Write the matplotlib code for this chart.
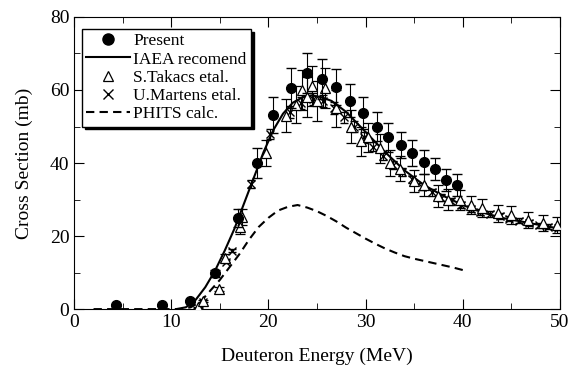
import numpy as np
import matplotlib
matplotlib.use("Agg")
import matplotlib.pyplot as plt
from matplotlib.lines import Line2D

plt.rcParams["font.family"] = ["Liberation Serif", "DejaVu Serif"]

# Present data (filled circles)
present_x = [4.3, 9.0, 11.9, 14.5, 16.9, 18.8, 20.5, 22.3, 24.0, 25.5, 27.0, 28.4,
             29.7, 31.2, 32.3, 33.6, 34.8, 36.0, 37.1, 38.3, 39.4]
present_y = [1.1, 1.1, 2.2, 9.8, 25.0, 40.0, 53.2, 60.5, 64.7, 63.0, 60.8, 57.0,
             53.7, 49.9, 47.0, 45.0, 42.7, 40.3, 38.3, 35.3, 34.0]
present_err = [0.2, 0.2, 0.3, 1.0, 2.5, 4.0, 5.0, 5.5, 5.5, 5.5, 5.0, 4.5,
               4.5, 4.0, 4.0, 3.5, 3.5, 3.2, 3.0, 3.0, 3.0]

# IAEA recommended curve
iaea_x = [10.5, 11.5, 12.5, 13.5, 14.5, 15.5, 16.5, 17.5, 18.5, 19.5, 20.5, 21.5,
          22.5, 23.5, 24.5, 25.5, 26.5, 28, 30, 32, 34, 36, 38, 40, 42, 44, 46, 48, 50]
iaea_y = [0.0, 0.5, 2.5, 6.0, 10.5, 16.0, 22.0, 29.0, 36.0, 43.0, 49.0, 53.5,
          56.5, 58.0, 58.5, 58.0, 57.0, 54.0, 48.5, 43.0, 38.0, 34.0, 31.0, 28.5,
          26.5, 25.0, 24.0, 23.0, 22.0]

# S.Takacs et al. (open triangles)
takacs_x = [12.7, 13.3, 14.9, 15.5, 17.1, 17.3, 19.8, 21.8, 22.8, 23.5, 24.0, 24.5,
            25.0, 25.8, 27.0, 28.5, 29.5, 30.2, 31.5, 32.5, 33.5, 35.0, 36.0, 37.5,
            38.5, 39.7, 40.8, 42.0, 43.6, 45.0, 46.7, 48.3, 49.7]
takacs_y = [0.5, 2.2, 5.5, 14.0, 22.5, 25.2, 42.7, 53.0, 56.0, 60.0, 58.0, 61.0,
            57.0, 60.5, 55.0, 50.0, 46.0, 47.0, 44.0, 40.0, 38.5, 35.0, 34.0, 31.0,
            30.0, 29.9, 28.5, 27.6, 26.2, 25.8, 24.4, 23.5, 23.0]
takacs_err = [0.2, 0.3, 0.6, 1.2, 2.0, 2.2, 3.5, 4.5, 5.0, 5.5, 5.5, 5.5,
              5.5, 5.5, 5.0, 4.5, 4.0, 4.0, 4.0, 3.5, 3.5, 3.0, 3.0, 3.0,
              2.8, 2.8, 2.5, 2.5, 2.4, 2.4, 2.2, 2.2, 2.2]

# U.Martens et al. (crosses)
martens_x = [13.3, 15.6, 16.3, 18.2, 20.2, 22.2, 23.4, 24.6, 25.6, 26.8, 27.8, 28.8,
             29.8, 30.8, 31.8, 32.8, 33.8, 34.8, 35.8, 36.8, 37.8, 38.8, 39.8, 40.8,
             41.8, 42.8, 43.8, 44.8, 45.8, 46.8, 47.8, 48.8, 49.8]
martens_y = [2.0, 13.0, 16.0, 34.3, 47.9, 54.0, 56.5, 57.5, 57.0, 55.0, 52.5, 50.0,
             47.0, 44.5, 42.0, 39.5, 37.5, 35.5, 33.5, 32.0, 30.5, 29.5, 28.5, 27.5,
             26.5, 26.0, 25.5, 24.8, 24.2, 23.6, 23.0, 22.6, 22.2]

# PHITS calculation
phits_x = [2, 11, 12, 13, 14, 15, 16, 17, 18, 19, 20, 21, 22, 23, 24, 25, 26, 27,
           28, 29, 30, 31, 32, 33, 34, 35, 36, 37, 38, 39, 40]
phits_y = [0.0, 0.0, 0.5, 2.0, 5.0, 8.0, 11.5, 15.0, 19.0, 22.5, 25.0, 27.0, 28.0,
           28.5, 27.8, 26.8, 25.5, 24.0, 22.3, 20.8, 19.3, 17.9, 16.6, 15.5, 14.5,
           13.8, 13.2, 12.6, 12.0, 11.4, 10.7]

fig = plt.figure(figsize=(5.79, 3.68), dpi=100)
ax = fig.add_axes([0.128, 0.160, 0.839, 0.794])

dash = (0, (4, 2.5))
ax.plot(phits_x, phits_y, color="black", linestyle=dash, lw=1.5, zorder=2)
ax.plot(iaea_x, iaea_y, color="black", lw=1.5, zorder=3)

ax.errorbar(martens_x, martens_y, yerr=np.array(martens_y) * 0.03, fmt="x",
            color="black", ms=6, mew=1.0, elinewidth=0.8, capsize=3, zorder=4)
ax.errorbar(takacs_x, takacs_y, yerr=takacs_err, fmt="^", color="black",
            mfc="white", ms=7, mew=0.9, elinewidth=0.8, capsize=3.5, zorder=5)
ax.errorbar(present_x, present_y, yerr=present_err, fmt="o", color="black",
            ms=7, elinewidth=0.8, capsize=3.5, zorder=6)

ax.set_xlim(0, 50)
ax.set_ylim(0, 80)
ax.set_xticks(range(0, 51, 10))
ax.set_xticks(range(0, 51, 5), minor=True)
ax.set_yticks(range(0, 81, 20))
ax.set_yticks(range(0, 81, 10), minor=True)
ax.tick_params(which="both", direction="in", top=True, right=True, labelsize=14)
ax.tick_params(which="major", length=7)
ax.tick_params(which="minor", length=4)

ax.set_xlabel("Deuteron Energy (MeV)", fontsize=14, labelpad=12)
ax.set_ylabel("Cross Section (mb)", fontsize=14, labelpad=12)

handles = [
    Line2D([], [], ls="none", marker="o", color="black", ms=8),
    Line2D([], [], color="black", lw=1.5),
    Line2D([], [], ls="none", marker="^", color="black", mfc="white", ms=7, mew=0.9),
    Line2D([], [], ls="none", marker="x", color="black", ms=7, mew=1.0),
    Line2D([], [], color="black", lw=1.5, linestyle=dash),
]
labels = ["Present", "IAEA recomend", "S.Takacs etal.", "U.Martens etal.", "PHITS calc."]
leg = ax.legend(handles, labels, loc="upper left", bbox_to_anchor=(-0.005, 0.995),
                fontsize=12.5, frameon=True, fancybox=False, edgecolor="black",
                handlelength=2.5, handletextpad=0.2, labelspacing=0.12,
                borderpad=0.25, borderaxespad=0.6,
                shadow={"color": "black", "alpha": 1.0})
leg.get_frame().set_linewidth(1.0)

fig.savefig("out.png", dpi=100)
